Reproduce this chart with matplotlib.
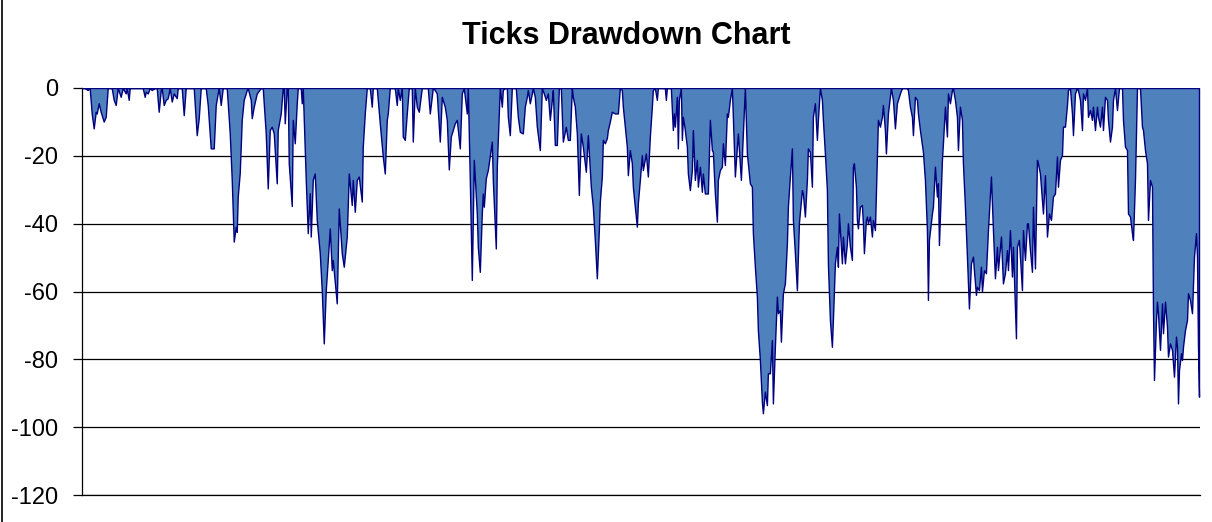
import matplotlib
matplotlib.use("Agg")
import matplotlib.pyplot as plt
from matplotlib.lines import Line2D

plt.rcParams["font.family"] = ["Liberation Sans", "DejaVu Sans"]

# trade number / drawdown in ticks
trades = [
    0, 3, 6, 8, 10, 12, 14, 15, 17, 19, 22, 24, 26, 30, 32, 34, 36, 39, 41, 44,
    45, 47, 48, 61, 63, 64, 66, 68, 70, 73, 75, 77, 79, 80, 82, 84, 86, 88, 90, 92,
    95, 96, 100, 102, 104, 112, 115, 117, 119, 124, 126, 129, 132, 134, 136, 137, 139, 141, 145, 148,
    150, 152, 154, 155, 156, 158, 160, 162, 165, 166, 169, 170, 172, 175, 179, 181, 184, 186, 188, 190,
    192, 195, 196, 199, 201, 202, 203, 205, 206, 207, 210, 211, 213, 215, 216, 219, 220, 221, 224, 226,
    228, 229, 231, 233, 235, 238, 240, 242, 244, 246, 248, 250, 251, 255, 257, 260, 262, 265, 267, 270,
    271, 273, 275, 277, 280, 281, 283, 285, 288, 290, 291, 295, 298, 301, 303, 305, 306, 308, 313, 315,
    316, 318, 320, 321, 323, 325, 327, 330, 331, 333, 335, 337, 340, 346, 348, 351, 353, 355, 358, 360,
    363, 365, 367, 369, 371, 373, 375, 378, 380, 382, 385, 386, 388, 390, 392, 395, 396, 398, 400, 401,
    402, 404, 406, 410, 411, 414, 415, 417, 418, 420, 421, 423, 425, 426, 428, 430, 434, 436, 438, 441,
    443, 445, 446, 448, 450, 451, 453, 455, 458, 460, 462, 464, 466, 468, 470, 471, 473, 475, 477, 479,
    481, 484, 486, 488, 490, 491, 493, 495, 497, 499, 501, 504, 506, 509, 511, 513, 515, 517, 518, 520,
    521, 523, 525, 526, 528, 530, 533, 536, 538, 540, 541, 543, 545, 546, 548, 550, 551, 553, 555, 556,
    558, 560, 561, 564, 566, 568, 570, 571, 573, 575, 576, 583, 584, 585, 589, 591, 592, 593, 595, 596,
    597, 599, 600, 601, 603, 605, 606, 608, 610, 611, 613, 615, 616, 618, 620, 621, 623, 626, 628, 630,
    631, 633, 635, 636, 638, 640, 641, 643, 645, 646, 648, 650, 651, 653, 655, 656, 659, 661, 663, 665,
    666, 668, 670, 671, 673, 675, 676, 678, 680, 681, 683, 685, 686, 688, 690, 691, 693, 695, 696, 698,
    699, 701, 703, 705, 706, 708, 710, 711, 713, 715, 717, 720, 721, 723, 725, 726, 728, 730, 731, 733,
    735, 736, 738, 740, 741, 743, 745, 746, 748, 750, 751, 753, 755, 756, 757, 760, 761, 763, 765, 766,
    768, 770, 771, 772, 774, 775, 776, 778, 780, 781, 782, 784, 785, 786, 788, 790, 791, 793, 795, 796,
    798, 800, 801, 803, 804, 806, 809, 811, 813, 815, 818, 820, 825, 826, 828, 830, 831, 833, 835, 836,
    838, 841, 843, 845, 846, 847, 850, 851, 853, 855, 856, 857, 860, 861, 863, 865, 866, 868, 870, 871,
    873, 875, 876, 878, 880, 881, 883, 885, 887, 889, 891, 892, 894, 895, 897, 899, 900, 902, 904, 906,
    909, 911, 913, 915, 916, 919, 921, 923, 925, 926, 928, 930, 931, 934, 935, 937, 940, 941, 943, 945,
    946, 948, 950, 951, 953, 955, 956, 958, 961, 963, 965, 967, 969, 971, 973, 975, 976, 978, 980, 981,
    983, 985, 986, 988, 990, 991, 993, 995, 996, 998, 1000, 1001, 1003, 1005, 1006, 1008, 1010, 1011, 1013, 1015,
    1016, 1018, 1020, 1021, 1023, 1025, 1026, 1028, 1030, 1031, 1033, 1035, 1037, 1040, 1041, 1043, 1045, 1046, 1048, 1050,
    1051, 1053, 1055, 1058, 1060, 1061, 1063, 1065, 1066, 1068, 1070, 1071, 1072, 1074, 1075, 1076, 1078, 1080, 1081, 1083,
    1085, 1086, 1088, 1090, 1092, 1094, 1095, 1096, 1097, 1099, 1100, 1101, 1103, 1105, 1106, 1108, 1110, 1112, 1114, 1115,
    1116, 1117,
]
drawdown = [
    0, 0, -0.6, 0, -7.5, -11.9, -7.0, -7.5, -4.5, -7.0, -9.9, -8.5, 0, 0, -3.5, -5.0, 0, -2.6, 0, -1.6,
    0, -3.5, 0, 0, -2.6, -1.1, -1.6, 0, -0.6, 0, 0, -7.0, -0.6, 0, -5.0, -3.5, -3.0, 0, -4.0, -1.6,
    -3.0, 0, 0, -8.0, 0, 0, -13.9, -8.9, 0, 0, -5.0, -17.8, -17.8, -5.0, -1.6, 0, -5.0, 0, 0, -13.4,
    -27.0, -45.3, -40.9, -42.4, -32.0, -25.0, -9.4, -3.5, -0.6, 0, -3.5, -8.9, -5.5, -1.6, 0, 0, -13.4, -29.6, -12.4, -11.4,
    -13.4, -28.1, -12.4, -7.5, 0, 0, -10.4, 0, 0, -22.2, -34.8, -9.4, -16.3, -4.5, 0, 0, -4.5, 0, -27.1, -42.8,
    -31.0, -43.8, -27.1, -25.2, -38.9, -48.7, -59.6, -75.3, -59.6, -50.7, -41.4, -53.7, -50.7, -63.5, -35.5, -48.7, -52.7, -43.8, -25.2, -34.5,
    -27.1, -36.5, -27.1, -26.1, -33.5, -17.3, -7.5, 0, 0, -5.5, 0, 0, -10.4, -20.2, -25.2, -9.4, -7.5, 0, 0, -5.0,
    0, -3.5, 0, -14.3, -15.3, -7.5, 0, 0, -15.8, 0, -5.5, -7.0, 0, 0, -7.5, 0, -0.6, -1.6, -15.8, -2.6,
    -5.5, -9.4, -24.0, -14.3, -12.4, -10.4, -9.4, -17.8, -1.6, 0, -7.5, 0, -27.1, -56.6, -21.2, -37.0, -46.8, -54.2, -37.0, -31.1,
    -35.0, -26.6, -24.2, -15.8, -27.1, -47.3, -23.2, -7.5, 0, -5.5, -0.6, 0, 0, -8.5, -13.9, 0, 0, -8.5, -12.9, -13.4,
    -5.5, -2.6, -0.6, -4.5, -1.6, 0, -2.6, -11.4, -18.3, 0, -1.6, -3.5, -1.6, -9.4, -3.5, -0.6, -16.8, -16.8, 0, 0,
    -15.8, -11.4, -15.3, -15.3, 0, -2.6, -5.5, -13.4, -31.5, -13.4, -17.3, -24.7, -13.9, -29.1, -35.0, -44.8, -56.1, -41.9, -33.5, -26.1,
    -15.3, -16.3, -14.8, -12.4, -9.9, -7.0, -7.5, -7.5, 0, -0.6, -5.5, -11.4, -17.3, -25.7, -18.3, -22.2, -29.1, -35.0, -40.9, -34.0,
    -27.1, -19.8, -24.2, -19.3, -26.1, -14.3, -5.5, -0.6, 0, -3.5, 0, 0, -3.5, 0, 0, -12.4, -7.5, -11.4, -2.6, -17.8,
    -3.5, 0, -15.3, -8.5, -12.4, -17.3, -25.2, -30.1, -24.2, -12.4, -27.1, -21.2, -29.1, -23.2, -30.6, -25.2, -31.1, -31.1, -9.4, -18.3,
    -18.8, -31.1, -39.4, -27.1, -24.2, -23.2, -16.3, -22.7, -7.5, -8.5, -3.5, 0, -8.5, -26.1, -17.3, -13.4, -27.1, -13.4, 0, -19.3,
    -22.2, -28.1, -29.1, -42.8, -52.7, -61.5, -71.4, -80.2, -92.5, -95.9, -89.5, -93.5, -84.1, -84.1, -74.3, -93.0, -76.3, -61.5, -66.4, -65.5,
    -74.8, -60.5, -57.6, -45.8, -35.0, -26.1, -17.8, -38.9, -48.7, -59.6, -39.9, -30.1, -31.1, -37.9, -27.1, -17.8, -18.8, -29.1, -8.5, -4.5,
    -15.3, -9.4, 0, -3.5, -9.4, -19.3, -30.1, -51.7, -68.4, -76.3, -68.4, -51.7, -46.8, -52.7, -37.0, -51.7, -43.8, -51.7, -45.8, -39.9,
    -46.8, -50.7, -23.2, -22.2, -29.1, -38.9, -41.4, -35.0, -34.5, -39.9, -48.7, -38.9, -37.9, -39.9, -37.9, -43.8, -38.9, -41.9, -20.2, -9.4,
    -11.4, -8.5, -5.0, -12.4, -19.3, -7.5, 0, -3.5, -11.9, -4.5, -1.6, 0, 0, -0.6, -5.5, -8.5, -13.9, -2.6, -3.5, -7.5,
    -12.4, -18.8, -27.1, -41.9, -62.5, -44.8, -37.0, -35.0, -23.2, -32.0, -28.1, -46.3, -21.2, -16.3, -5.5, -14.3, -1.6, -4.5, -0.6, 0,
    -3.5, -8.5, -18.3, -5.5, -9.4, -22.2, -35.0, -49.7, -65.0, -51.7, -49.7, -53.7, -61.0, -58.6, -59.6, -52.7, -60.0, -53.7, -54.6, -41.9,
    -26.1, -41.9, -56.1, -46.8, -53.7, -43.8, -57.6, -54.6, -47.8, -53.7, -41.9, -55.6, -46.8, -73.8, -46.8, -44.8, -59.6, -41.9, -50.7, -39.9,
    -39.9, -47.8, -54.2, -35.0, -53.2, -21.2, -22.2, -25.2, -37.0, -25.7, -43.8, -37.0, -38.9, -32.0, -31.1, -20.2, -29.1, -21.2, -19.8, -11.4,
    -11.4, -5.0, -0.6, 0, -7.5, -13.9, -1.6, 0, -0.6, -3.5, -12.4, -1.6, -3.5, 0, -8.5, -6.5, -9.4, -5.5, -12.4, -5.5,
    -8.5, -11.4, -5.5, -12.4, -2.6, -3.5, -9.4, -15.8, -11.4, -3.5, 0, -6.5, 0, 0, -9.4, -17.3, -18.3, -37.0, -37.9, -42.8,
    -44.8, -27.1, 0, 0, -11.4, -12.4, -18.3, -22.2, -38.9, -27.1, -29.1, -65.5, -86.1, -68.4, -63.0, -66.4, -77.2, -63.5, -72.3, -63.0,
    -70.4, -79.2, -75.3, -77.2, -85.1, -73.3, -76.3, -93.0, -83.1, -78.2, -80.2, -76.3, -71.4, -68.4, -60.5, -62.5, -66.4, -49.7, -42.8, -49.7,
    -76.3, -91.0,
]

y_ticks = [0, -20, -40, -60, -80, -100, -120]

fig = plt.figure(figsize=(12.12, 5.22), dpi=100)
ax = fig.add_axes([81.7 / 1212, 1 - 495 / 522, (1200 - 81.7) / 1212, 407 / 522])

ax.fill_between(trades, drawdown, 0, facecolor="#4F81BD", edgecolor="#000080",
                linewidth=1.0, zorder=3)

ax.set_xlim(0, 1118)
ax.set_ylim(-120, 0)
ax.set_yticks(y_ticks)
ax.set_yticklabels([str(v) for v in y_ticks], fontsize=17)
ax.set_xticks([])

ax.yaxis.grid(True, color="black", linewidth=0.9, zorder=0)
ax.set_axisbelow(True)
for side in ["top", "right"]:
    ax.spines[side].set_visible(False)
for side in ["left", "bottom"]:
    ax.spines[side].set_color("black")
    ax.spines[side].set_linewidth(0.9)
ax.tick_params(axis="y", length=6.5, width=0.9, pad=10.5, colors="black")

fig.text(626.5 / 1212, 1 - 44 / 522, "Ticks Drawdown Chart", ha="center",
         va="baseline", fontsize=22, fontweight="bold")

# chart frame edge on the left
fig.add_artist(Line2D([1.5 / 1212, 1.5 / 1212], [0, 1], color="black", linewidth=1.2))

fig.savefig("out.png", dpi=100)
